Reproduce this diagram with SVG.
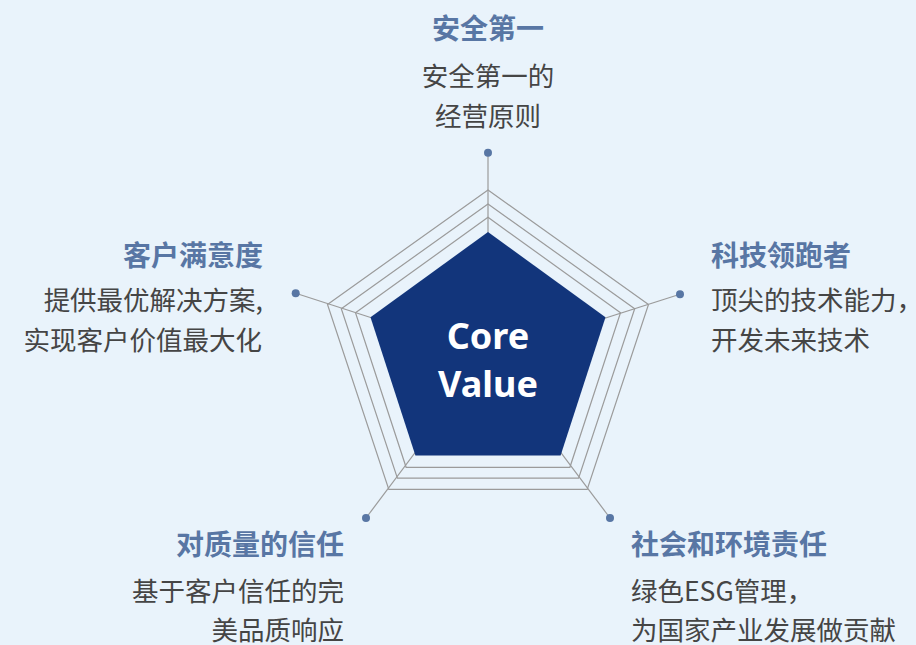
<svg xmlns="http://www.w3.org/2000/svg" width="916" height="645" viewBox="0 0 916 645">
  <style>
    .title { font-family: "Noto Sans CJK SC", "Noto Sans", sans-serif; font-size: 28px; font-weight: 700; fill: #5876a4; }
    .desc { font-family: "Noto Sans CJK SC", "Noto Sans", sans-serif; font-size: 26.5px; font-weight: 400; fill: #454545; }
    .ring { fill: none; stroke: #9b9b9b; stroke-width: 1.2; }
    .spoke { stroke: #9b9b9b; stroke-width: 1.2; fill: none; }
    .dot { fill: #5876a4; }
    .core { font-family: "Noto Sans", "Open Sans", sans-serif; font-size: 36px; font-weight: 700; fill: #ffffff; }
  </style>
  <rect x="0" y="0" width="916" height="645" fill="#e9f3fb"/>

  <g id="connectors">
    <line class="spoke" x1="488" y1="355.5" x2="488" y2="152.7"/>
    <line class="spoke" x1="488" y1="355.5" x2="680" y2="294.3"/>
    <line class="spoke" x1="488" y1="355.5" x2="295.7" y2="293.3"/>
    <line class="spoke" x1="488" y1="355.5" x2="366" y2="518"/>
    <line class="spoke" x1="488" y1="355.5" x2="610" y2="518"/>
  </g>

  <g id="radar">
    <polygon class="ring" points="488,190 648.5,304.4 587.2,489.4 388.8,489.4 327.5,304.4"/>
    <polygon class="ring" points="488,204 634.7,308.7 578.6,478.1 397.4,478.1 341.3,308.7"/>
    <polygon class="ring" points="488,217.3 620.5,312.8 569.9,467.3 406.1,467.3 355.5,312.8"/>
  </g>

  <g id="node-core">
    <polygon points="488,232 605.5,317.3 560.6,455.4 415.4,455.4 370.5,317.3" fill="#12357b"/>
    <text class="core" x="488" y="349" text-anchor="middle">Core</text>
    <text class="core" x="488" y="397" text-anchor="middle">Value</text>
  </g>

  <g id="node-safety">
    <circle class="dot" cx="488" cy="152.7" r="4"/>
    <text class="title" x="488" y="39" text-anchor="middle">安全第一</text>
    <text class="desc" x="488" y="86" text-anchor="middle">安全第一的</text>
    <text class="desc" x="488" y="126" text-anchor="middle">经营原则</text>
  </g>

  <g id="node-tech">
    <circle class="dot" cx="680" cy="294.3" r="4"/>
    <text class="title" x="711" y="265.5">科技领跑者</text>
    <text class="desc" x="711" y="310">顶尖的技术能力，</text>
    <text class="desc" x="711" y="350">开发未来技术</text>
  </g>

  <g id="node-customer">
    <circle class="dot" cx="295.7" cy="293.3" r="4"/>
    <text class="title" x="263" y="265.5" text-anchor="end">客户满意度</text>
    <text class="desc" x="263" y="310" text-anchor="end">提供最优解决方案,</text>
    <text class="desc" x="262" y="350" text-anchor="end">实现客户价值最大化</text>
  </g>

  <g id="node-quality">
    <circle class="dot" cx="366" cy="518" r="4"/>
    <text class="title" x="344" y="555" text-anchor="end">对质量的信任</text>
    <text class="desc" x="344" y="601" text-anchor="end">基于客户信任的完</text>
    <text class="desc" x="344" y="640" text-anchor="end">美品质响应</text>
  </g>

  <g id="node-esg">
    <circle class="dot" cx="610" cy="518" r="4"/>
    <text class="title" x="631" y="555">社会和环境责任</text>
    <text class="desc" x="631" y="601">绿色ESG管理，</text>
    <text class="desc" x="631" y="640">为国家产业发展做贡献</text>
  </g>
</svg>
